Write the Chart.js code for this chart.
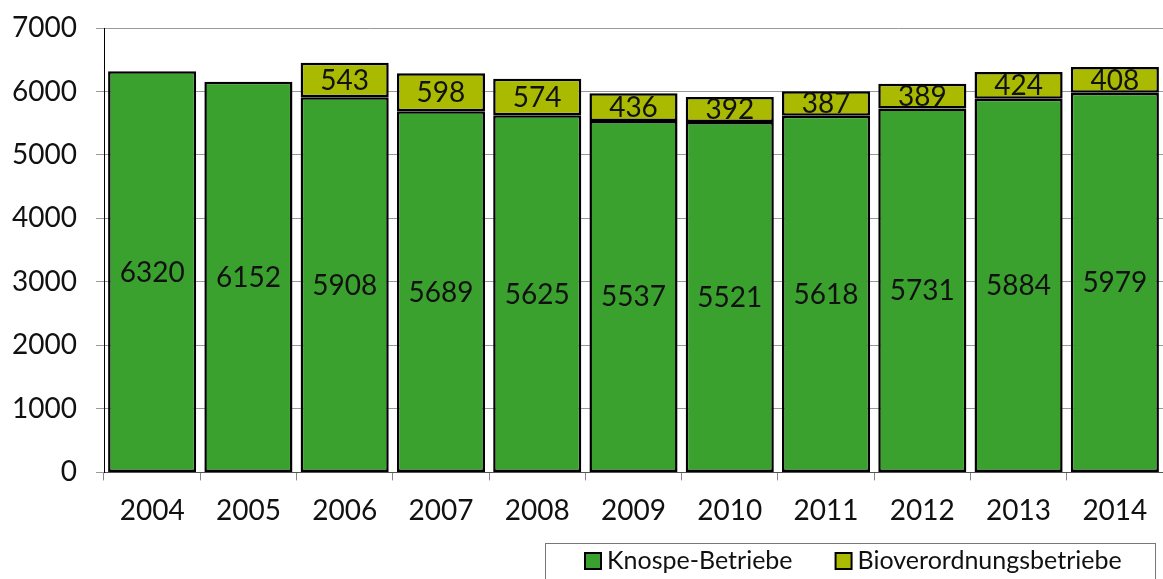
<!DOCTYPE html>
<html>
<head>
<meta charset="utf-8">
<script src="https://cdn.jsdelivr.net/npm/chart.js@4"></script>
<style>
  html, body { margin: 0; padding: 0; background: #fff; }
  #wrap { width: 1163px; height: 579px; }
</style>
</head>
<body>
<div id="wrap"><canvas id="chart"></canvas></div>
<script>
// Werte
const jahre = ["2004", "2005", "2006", "2007", "2008", "2009", "2010", "2011", "2012", "2013", "2014"];
const knospe = [6320, 6152, 5908, 5689, 5625, 5537, 5521, 5618, 5731, 5884, 5979];
const bio = [null, null, 543, 598, 574, 436, 392, 387, 389, 424, 408];

const schrift = "Lato, 'DejaVu Sans', sans-serif";

/* Zahlen in die Balken schreiben */
const labelPlugin = {
  id: "wertLabels",
  afterDatasetsDraw(chart) {
    const ctx = chart.ctx;
    ctx.save();
    ctx.fillStyle = "#111";
    ctx.font = "28px " + schrift;
    ctx.textAlign = "center";
    ctx.textBaseline = "middle";
    chart.data.datasets.forEach((ds, i) => {
      chart.getDatasetMeta(i).data.forEach((bar, j) => {
        const v = ds.data[j];
        if (v == null) return;
        const mitte = (bar.y + bar.base) / 2;
        ctx.fillText(String(v), bar.x, mitte + 1);
      });
    });
    ctx.restore();
  }
};

/* eigene Legende mit Rahmen unten rechts */
const legendePlugin = {
  id: "legende",
  afterDraw(chart) {
    const ctx = chart.ctx;
    ctx.save();
    ctx.strokeStyle = "#777";
    ctx.lineWidth = 1;
    ctx.strokeRect(545.5, 543.5, 1155 - 545, 50);
    ctx.font = "25px " + schrift;
    ctx.textBaseline = "middle";
    ctx.textAlign = "left";
    let x = 585;
    const y = 561;
    chart.data.datasets.forEach(ds => {
      ctx.fillStyle = ds.backgroundColor;
      ctx.fillRect(x, y - 8, 16, 16);
      ctx.strokeStyle = "#000";
      ctx.lineWidth = 2;
      ctx.strokeRect(x, y - 8, 16, 16);
      ctx.fillStyle = "#111";
      ctx.fillText(ds.label, x + 22, y);
      x += 22 + ctx.measureText(ds.label).width + 43;
    });
    ctx.restore();
  }
};

window.onload = function () {
  new Chart(document.getElementById("chart"), {
    type: "bar",
    data: {
      labels: jahre,
      datasets: [
        {
          label: "Knospe-Betriebe",
          data: knospe,
          backgroundColor: "rgb(58, 160, 46)",
          borderColor: "#000",
          borderWidth: 2.5,
          borderSkipped: false,
          barPercentage: 0.915,
          categoryPercentage: 1.0
        },
        {
          label: "Bioverordnungsbetriebe",
          data: bio,
          backgroundColor: "rgb(170, 186, 0)",
          borderColor: "#000",
          borderWidth: 2.5,
          borderSkipped: false,
          barPercentage: 0.915,
          categoryPercentage: 1.0
        }
      ]
    },
    plugins: [labelPlugin, legendePlugin],
    options: {
      responsive: true,
      maintainAspectRatio: false,
      animation: false,
      layout: { padding: { top: 28, right: 0, left: 0, bottom: 37 } },
      scales: {
        x: {
          stacked: true,
          grid: {
            drawOnChartArea: false,
            tickLength: 8,
            color: "#888",
            offset: true
          },
          border: { color: "#555" },
          ticks: {
            color: "#111",
            font: { family: schrift, size: 28 },
            padding: 14
          }
        },
        y: {
          stacked: true,
          min: 0,
          max: 7000,
          afterFit(scale) {
            scale.width = 104;
            scale.paddingTop = 0;
            scale.paddingBottom = 0;
          },
          grid: {
            color: "#999",
            lineWidth: 1,
            tickLength: 8
          },
          border: { color: "#000", width: 1 },
          ticks: {
            stepSize: 1000,
            color: "#111",
            font: { family: schrift, size: 28 },
            padding: 19,
            callback: v => String(v)
          }
        }
      },
      plugins: {
        legend: { display: false },
        tooltip: { enabled: false }
      }
    }
  });
};
</script>
</body>
</html>
